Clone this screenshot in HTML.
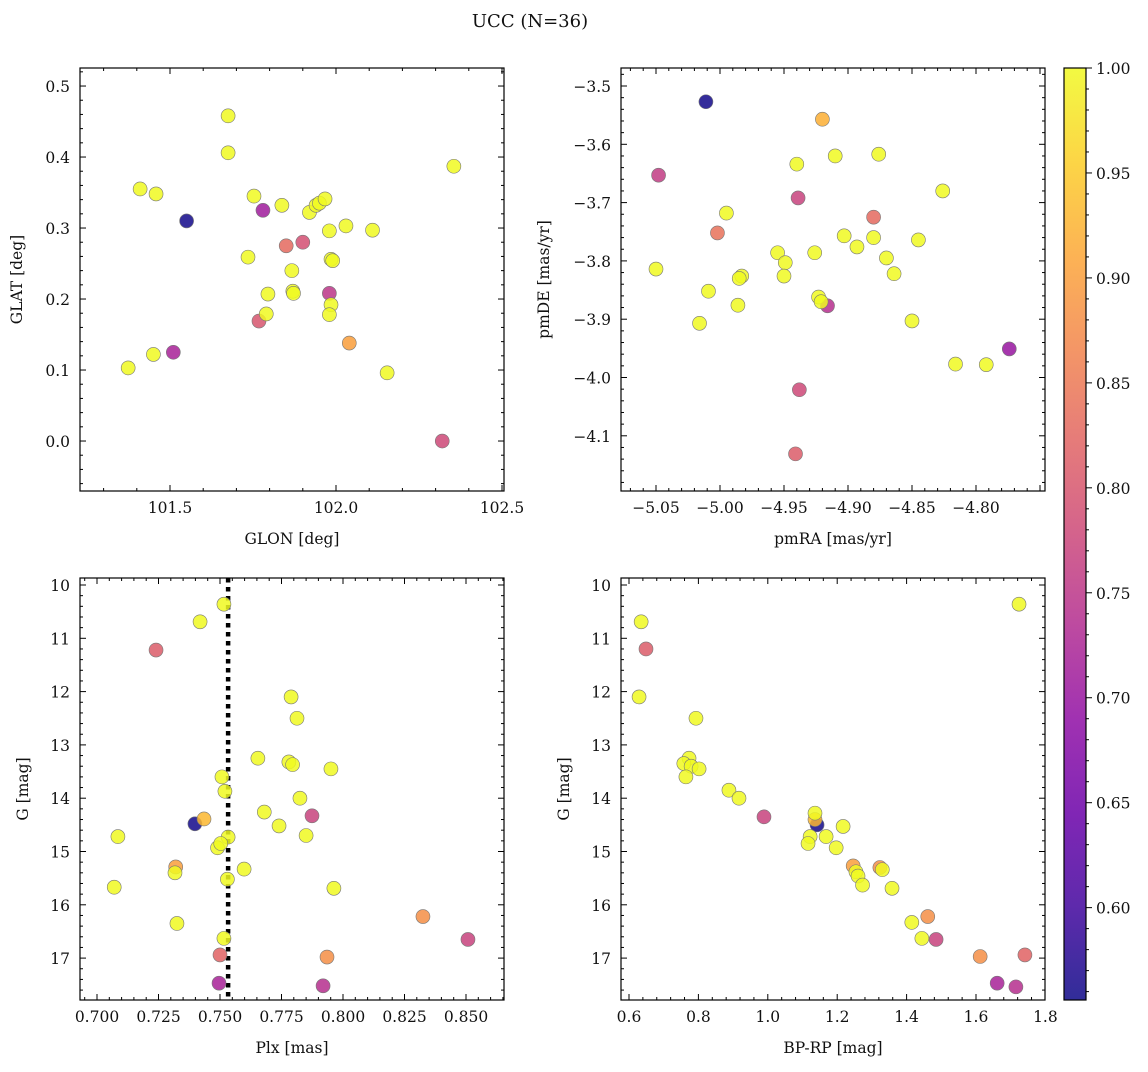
<!DOCTYPE html>
<html><head><meta charset="utf-8"><style>
html,body{margin:0;padding:0;background:#fff;}
svg text{font-family:"DejaVu Serif","Liberation Serif",serif;fill:#111;}
</style></head><body>
<svg id="fig" width="1148" height="1067" viewBox="0 0 1148 1067" xmlns="http://www.w3.org/2000/svg">
<defs><linearGradient id="cbg" x1="0" y1="1" x2="0" y2="0"></linearGradient></defs>
<text x="530" y="27" font-size="18" text-anchor="middle">UCC (N=36)</text>
</svg>
<script>
// ---- data ----
const glon=[101.675,101.675,101.41,101.458,101.55,101.753,101.78,101.837,101.92,101.94,101.95,101.967,101.85,101.9,101.98,102.03,102.11,102.355,101.735,101.985,101.867,101.87,101.872,101.795,101.79,101.768,101.98,101.985,101.98,102.04,102.154,101.374,101.45,101.51,102.32,101.99];
const glat=[0.458,0.406,0.355,0.348,0.31,0.345,0.325,0.332,0.322,0.332,0.335,0.341,0.275,0.28,0.296,0.303,0.297,0.387,0.259,0.256,0.24,0.211,0.208,0.207,0.179,0.169,0.208,0.192,0.178,0.138,0.096,0.103,0.122,0.125,0.0,0.254];
const probA=[1,1,1,1,0.56,1,0.71,1,1,1,1,1,0.83,0.79,1,1,1,1,1,1,1,1,1,1,1,0.8,0.75,1,1,0.9,1,1,1,0.72,0.78,1];
const pmra=[-5.011,-5.048,-4.94,-4.92,-4.91,-4.876,-4.826,-4.995,-5.002,-4.939,-4.88,-4.903,-4.88,-4.893,-4.845,-4.955,-4.926,-4.949,-4.87,-5.05,-4.983,-4.95,-4.864,-5.009,-4.986,-4.923,-4.921,-4.916,-5.016,-4.85,-4.816,-4.792,-4.774,-4.938,-4.941,-4.985];
const pmde=[-3.527,-3.653,-3.634,-3.557,-3.62,-3.617,-3.68,-3.718,-3.752,-3.692,-3.725,-3.757,-3.76,-3.776,-3.764,-3.786,-3.786,-3.803,-3.795,-3.814,-3.826,-3.826,-3.822,-3.852,-3.876,-3.862,-3.87,-3.877,-3.907,-3.903,-3.977,-3.978,-3.951,-4.021,-4.131,-3.83];
const probB=[0.56,0.76,1,0.92,1,1,1,1,0.84,0.77,0.83,1,1,1,1,1,1,1,1,1,1,1,1,1,1,1,1,0.74,1,1,1,1,0.7,0.78,0.81,1];
const plx=[0.7516,0.7419,0.724,0.7789,0.7813,0.7654,0.778,0.7795,0.7951,0.7508,0.752,0.7825,0.768,0.774,0.7874,0.7435,0.7398,0.785,0.7533,0.7085,0.749,0.732,0.7317,0.7598,0.753,0.707,0.7963,0.7325,0.8325,0.7516,0.8508,0.75,0.7935,0.7496,0.7919,0.7503];
const gmag=[10.36,10.69,11.22,12.1,12.5,13.25,13.32,13.37,13.45,13.6,13.87,14.0,14.26,14.52,14.33,14.39,14.48,14.7,14.73,14.72,14.93,15.29,15.4,15.33,15.52,15.67,15.69,16.35,16.22,16.63,16.65,16.94,16.98,17.47,17.52,14.85];
const probC=[1,1,0.81,1,1,1,1,1,1,1,1,1,1,1,0.77,0.93,0.56,1,1,1,1,0.9,1,1,1,1,1,1,0.88,1,0.77,0.82,0.88,0.72,0.74,1];
const bprp=[1.724,0.635,0.649,0.629,0.793,0.773,0.758,0.779,0.802,0.764,0.888,0.917,0.989,1.136,1.217,1.136,1.142,1.122,1.116,1.168,1.197,1.246,1.254,1.26,1.273,1.323,1.358,1.415,1.461,1.444,1.485,1.612,1.741,1.661,1.715,1.33];
const gmagD=[10.36,10.69,11.2,12.1,12.5,13.25,13.35,13.4,13.45,13.6,13.85,14.0,14.35,14.28,14.53,14.4,14.5,14.72,14.85,14.72,14.93,15.27,15.38,15.46,15.63,15.3,15.69,16.33,16.22,16.63,16.65,16.97,16.94,17.47,17.54,15.34];
const probD=[1,1,0.81,1,1,1,1,1,1,1,1,1,0.77,1,1,0.93,0.56,1,1,1,1,0.9,1,1,1,0.88,1,1,0.88,1,0.77,0.88,0.82,0.72,0.74,1];
const plxMean=0.7533;
const cbTicks=[0.60,0.65,0.70,0.75,0.80,0.85,0.90,0.95,1.00];

const svg=document.getElementById('fig');
const NS='http://www.w3.org/2000/svg';
function mk(tag,attrs,parent){const e=document.createElementNS(NS,tag);for(const k in attrs)e.setAttribute(k,attrs[k]);(parent||svg).appendChild(e);return e;}
const stops=['#0d0887','#41049d','#6a00a8','#8f0da4','#b12a90','#cc4778','#e16462','#f2844b','#fca636','#fcce25','#f0f921'];
function hex(h){return [1,3,5].map(i=>parseInt(h.substr(i,2),16));}
const PMIN=0.556,PMAX=1.0;
function cmap(v){let t=(v-PMIN)/(PMAX-PMIN);t=Math.max(0,Math.min(1,t));const f=t*10,i=Math.min(9,Math.floor(f)),r=f-i;const a=hex(stops[i]),b=hex(stops[i+1]);return 'rgb('+a.map((c,k)=>Math.round(c+(b[k]-c)*r)).join(',')+')';}

function panel(o){
  const g=mk('g',{});
  
  
  const sx=v=>o.x0+(v-o.xmin)/(o.xmax-o.xmin)*(o.x1-o.x0);
  const sy=o.yinv?(v=>o.y0+(v-o.ymin)/(o.ymax-o.ymin)*(o.y1-o.y0)):(v=>o.y1-(v-o.ymin)/(o.ymax-o.ymin)*(o.y1-o.y0));
  if(o.vline!==undefined){const l=mk('line',{x1:sx(o.vline),x2:sx(o.vline),y1:o.y0,y2:o.y1,stroke:'#000','stroke-width':4.5,'stroke-dasharray':'4.5,4.5'},g);
    
    }
  const idx=o.xs.map((_,i)=>i).sort((a,b)=>o.c[a]-o.c[b]);
  for(const i of idx){const c=mk('circle',{cx:sx(o.xs[i]),cy:sy(o.ys[i]),r:7,fill:cmap(o.c[i]),'fill-opacity':0.85,stroke:'#777','stroke-width':0.6},g);
    
    }
  mk('rect',{x:o.x0,y:o.y0,width:o.x1-o.x0,height:o.y1-o.y0,fill:'none',stroke:'#000','stroke-width':1.2},g);
  const eps=1e-9;
  for(let v=Math.ceil((o.xmin-eps)/o.xminor)*o.xminor;v<=o.xmax+eps;v+=o.xminor){const x=sx(v);const isMaj=Math.abs(v/o.xmajor-Math.round(v/o.xmajor))<1e-6;const L=isMaj?6:3;
    mk('line',{x1:x,x2:x,y1:o.y1,y2:o.y1-L,stroke:'#000','stroke-width':1},g);mk('line',{x1:x,x2:x,y1:o.y0,y2:o.y0+L,stroke:'#000','stroke-width':1},g);}
  for(const v of o.xticks){const t=mk('text',{x:sx(v),y:o.y1+22,'font-size':15.5,'text-anchor':'middle'},g);t.textContent=v.toFixed(o.xdec).replace('-','\u2212');
    
    }
  for(let v=Math.ceil((o.ymin-eps)/o.yminor)*o.yminor;v<=o.ymax+eps;v+=o.yminor){const y=sy(v);const isMaj=Math.abs(v/o.ymajor-Math.round(v/o.ymajor))<1e-6;const L=isMaj?6:3;
    mk('line',{x1:o.x0,x2:o.x0+L,y1:y,y2:y,stroke:'#000','stroke-width':1},g);mk('line',{x1:o.x1,x2:o.x1-L,y1:y,y2:y,stroke:'#000','stroke-width':1},g);}
  for(const v of o.yticks){const t=mk('text',{x:o.x0-10,y:sy(v)+6,'font-size':15.5,'text-anchor':'end'},g);t.textContent=v.toFixed(o.ydec).replace('-','\u2212');
    
    }
  const xl=mk('text',{x:(o.x0+o.x1)/2,y:o.y1+53,'font-size':15.5,'text-anchor':'middle'},g);xl.textContent=o.xlabel;
  
  
  const yl=mk('text',{x:0,y:0,'font-size':15.5,'text-anchor':'middle',transform:'translate('+o.ylx+','+((o.y0+o.y1)/2)+') rotate(-90)'},g);yl.textContent=o.ylabel;
  
  
}
function rng(a,b,s){const r=[];for(let v=a;v<=b+1e-9;v+=s)r.push(Math.round(v*1e6)/1e6);return r;}
panel({name:'glon-glat-panel',x0:80,x1:504,y0:68,y1:491,xmin:101.5-90/332,xmax:101.5+334/332,ymin:-0.0704,ymax:0.5254,xs:glon,ys:glat,c:probA,
  xmajor:0.5,xminor:0.1,xticks:[101.5,102.0,102.5],xdec:1,ymajor:0.1,yminor:0.02,yticks:rng(0,0.5,0.1),ydec:1,xlabel:'GLON [deg]',ylabel:'GLAT [deg]',ylx:22});
panel({name:'pm-panel',x0:621,x1:1045,y0:68,y1:491,xmin:-5.05-35/1280,xmax:-5.05+389/1280,ymin:-3.5-405/583,ymax:-3.5+18/583,xs:pmra,ys:pmde,c:probB,
  xmajor:0.05,xminor:0.01,xticks:rng(-5.05,-4.80,0.05),xdec:2,ymajor:0.1,yminor:0.02,yticks:rng(-4.1,-3.5,0.1),ydec:1,xlabel:'pmRA [mas/yr]',ylabel:'pmDE [mas/yr]',ylx:549});
panel({name:'plx-g-panel',x0:80,x1:504,y0:578,y1:1000,xmin:0.7-17/2460,xmax:0.7+407/2460,yinv:true,ymin:10-7/53.3,ymax:10+415/53.3,xs:plx,ys:gmag,c:probC,vline:plxMean,
  xmajor:0.025,xminor:0.005,xticks:rng(0.7,0.85,0.025),xdec:3,ymajor:1,yminor:0.2,yticks:rng(10,17,1),ydec:0,xlabel:'Plx [mas]',ylabel:'G [mag]',ylx:28});
panel({name:'cmd-panel',x0:621,x1:1045,y0:578,y1:1000,xmin:0.6-8/347,xmax:0.6+416/347,yinv:true,ymin:10-7/53.3,ymax:10+415/53.3,xs:bprp,ys:gmagD,c:probD,
  xmajor:0.2,xminor:0.04,xticks:rng(0.6,1.8,0.2),xdec:1,ymajor:1,yminor:0.2,yticks:rng(10,17,1),ydec:0,xlabel:'BP-RP [mag]',ylabel:'G [mag]',ylx:569});

const grad=document.getElementById('cbg');
stops.forEach((s,i)=>mk('stop',{offset:i/10,'stop-color':s,'stop-opacity':0.85},grad));
const cb=mk('g',{});


const cx0=1064,cx1=1086,cy0=68,cy1=1000;
const cyv=v=>cy1-(v-PMIN)/(PMAX-PMIN)*(cy1-cy0);
mk('rect',{x:cx0,y:cy0,width:cx1-cx0,height:cy1-cy0,fill:'url(#cbg)',stroke:'#000','stroke-width':1.2},cb);
for(let v=0.56;v<=1.0001;v+=0.01){const y=cyv(v);const maj=Math.abs(v*20-Math.round(v*20))<1e-6;mk('line',{x1:cx1,x2:cx1+(maj?6:3),y1:y,y2:y,stroke:'#000','stroke-width':1},cb);}
for(const v of cbTicks){const t=mk('text',{x:cx1+10,y:cyv(v)+6,'font-size':15.5},cb);t.textContent=v.toFixed(2);
  
  }
</script>
</body></html>
